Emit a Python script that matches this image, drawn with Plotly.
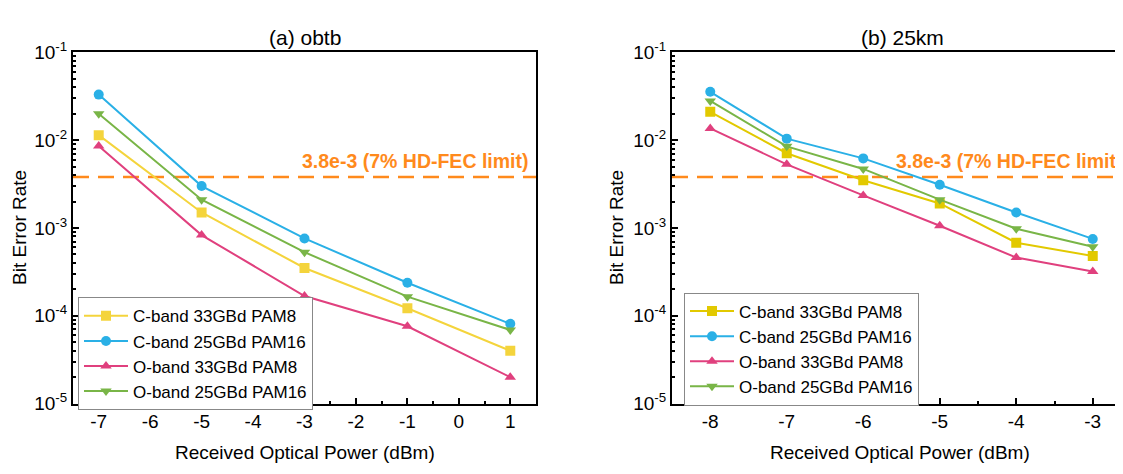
import plotly.graph_objects as go

W, H = 1123, 474

# ---------------- data ----------------
names = ["C-band 33GBd PAM8", "C-band 25GBd PAM16", "O-band 33GBd PAM8", "O-band 25GBd PAM16"]
symbols = ["square", "circle", "triangle-up", "triangle-down"]
colors_a = ["#F4D43C", "#2AB0E6", "#E0407E", "#79B547"]
colors_b = ["#E2C900", "#2AB0E6", "#E0407E", "#79B547"]

x_a = [-7, -5, -3, -1, 1]
ber_a_c33_pam8 = [1.14e-2, 1.5e-3, 3.5e-4, 1.22e-4, 4.0e-5]
ber_a_c25_pam16 = [3.3e-2, 3.0e-3, 7.6e-4, 2.38e-4, 8.1e-5]
ber_a_o33_pam8 = [8.6e-3, 8.3e-4, 1.68e-4, 7.6e-5, 2.0e-5]
ber_a_o25_pam16 = [2.0e-2, 2.1e-3, 5.3e-4, 1.65e-4, 6.9e-5]

x_b = [-8, -7, -6, -5, -4, -3]
ber_b_c33_pam8 = [2.1e-2, 7.1e-3, 3.5e-3, 1.9e-3, 6.8e-4, 4.8e-4]
ber_b_c25_pam16 = [3.55e-2, 1.04e-2, 6.2e-3, 3.1e-3, 1.5e-3, 7.5e-4]
ber_b_o33_pam8 = [1.36e-2, 5.3e-3, 2.35e-3, 1.06e-3, 4.6e-4, 3.2e-4]
ber_b_o25_pam16 = [2.8e-2, 8.5e-3, 4.7e-3, 2.1e-3, 9.8e-4, 6.1e-4]

fec_limit = 3.8e-3
fec_text = "3.8e-3 (7% HD-FEC limit)"
titles = ["(a) obtb", "(b) 25km"]
y_tickvals = [1e-5, 1e-4, 1e-3, 1e-2, 1e-1]
y_ticktext = ["10<sup>-5</sup>", "10<sup>-4</sup>", "10<sup>-3</sup>", "10<sup>-2</sup>", "10<sup>-1</sup>"]
y_minor = [m * 10.0 ** e for e in range(-5, -1) for m in range(2, 10)]
x_a_ticks = [-7, -6, -5, -4, -3, -2, -1, 0, 1]
x_a_ticktext = ["-7", "-6", "-5", "-4", "-3", "-2", "-1", "0", "1"]
x_b_ticks = [-8, -7, -6, -5, -4, -3]
x_b_ticktext = ["-8", "-7", "-6", "-5", "-4", "-3"]

FONT = "Liberation Sans, Arial, sans-serif"

series_a = [ber_a_c33_pam8, ber_a_c25_pam16, ber_a_o33_pam8, ber_a_o25_pam16]
series_b = [ber_b_c33_pam8, ber_b_c25_pam16, ber_b_o33_pam8, ber_b_o25_pam16]

fig = go.Figure()
for i, ys in enumerate(series_a):
    fig.add_trace(go.Scatter(
        x=x_a, y=ys, name=names[i], mode="lines+markers",
        line=dict(color=colors_a[i], width=2),
        marker=dict(symbol=symbols[i], size=10, color=colors_a[i]),
        xaxis="x", yaxis="y", legend="legend"))
for i, ys in enumerate(series_b):
    fig.add_trace(go.Scatter(
        x=x_b, y=ys, name=names[i], mode="lines+markers",
        line=dict(color=colors_b[i], width=2),
        marker=dict(symbol=symbols[i], size=10, color=colors_b[i]),
        xaxis="x2", yaxis="y2", legend="legend2"))

# page offset of the figure inside the browser page (default body margin)
OFF = 8

def px_x(p):
    return (p - OFF) / W

def px_y(p):
    return 1 - (p - OFF) / H

top, bottom = 41, 411
ydom = [px_y(bottom), px_y(top)]
a_left, a_right = 73, 536
b_left = 672

xcommon = dict(showline=True, linecolor="black", linewidth=2, ticks="inside",
               ticklen=6, tickwidth=2, tickcolor="black", showgrid=False, zeroline=False,
               tickfont=dict(family=FONT, size=19, color="black"),
               minor=dict(ticks="inside", ticklen=3, tickwidth=2, tickcolor="black", dtick=0.5, showgrid=False))
ycommon = dict(type="log", range=[-5, -1], showline=True, linecolor="black", linewidth=2,
               ticks="inside", ticklen=6, tickwidth=2, tickcolor="black", showgrid=False, zeroline=False,
               tickmode="array", tickvals=y_tickvals, ticktext=y_ticktext,
               tickfont=dict(family=FONT, size=19, color="black"),
               minor=dict(ticks="inside", ticklen=3, tickwidth=1.5, tickcolor="black",
                          tickmode="array", tickvals=y_minor, showgrid=False))

legend_common = dict(xanchor="left", yanchor="top", bgcolor="white", bordercolor="#888888",
                     borderwidth=1, font=dict(family=FONT, size=17, color="black"),
                     tracegroupgap=0, itemwidth=44)

fig.update_layout(
    width=W, height=H, margin=dict(l=0, r=0, t=0, b=0),
    paper_bgcolor="white", plot_bgcolor="white",
    font=dict(family=FONT, size=18, color="black"),
    xaxis=dict(domain=[px_x(a_left), px_x(a_right)], range=[-7.5, 1.5], anchor="y",
               mirror=True, tickmode="array", tickvals=x_a_ticks, ticktext=x_a_ticktext, **xcommon),
    yaxis=dict(domain=ydom, anchor="x", mirror=True, **ycommon),
    xaxis2=dict(domain=[px_x(b_left), 1], range=[-8.5, -2.5], anchor="y2",
                mirror=True, tickmode="array", tickvals=x_b_ticks, ticktext=x_b_ticktext, **xcommon),
    yaxis2=dict(domain=ydom, anchor="x2", mirror=False, **ycommon),
    legend=dict(x=px_x(78), y=px_y(299), **legend_common),
    legend2=dict(x=px_x(684), y=px_y(294), **legend_common),
    showlegend=True,
)

# FEC limit lines
for xr, yr in [("x domain", "y"), ("x2 domain", "y2")]:
    fig.add_shape(type="line", xref=xr, yref=yr, x0=0, x1=1, y0=fec_limit, y1=fec_limit,
                  line=dict(color="#FF8A1C", width=2.5, dash="16px,9px"), layer="below")

anns = []
anns.append(dict(text="<b>" + fec_text + "</b>", x=px_x(530), y=px_y(155), xref="paper", yref="paper",
                 xanchor="right", yanchor="middle", showarrow=False,
                 font=dict(family=FONT, size=19.5, color="#FF8A1C")))
anns.append(dict(text="<b>" + fec_text + "</b>", x=px_x(1124), y=px_y(155), xref="paper", yref="paper",
                 xanchor="right", yanchor="middle", showarrow=False,
                 font=dict(family=FONT, size=19.5, color="#FF8A1C")))
for t, cx in zip(titles, [304.5, 902]):
    anns.append(dict(text=t, x=px_x(cx), y=px_y(25), xref="paper", yref="paper",
                     xanchor="center", yanchor="middle", showarrow=False,
                     font=dict(family=FONT, size=21, color="black")))
for cx in [20, 617]:
    anns.append(dict(text="Bit Error Rate", x=px_x(cx), y=px_y(226), xref="paper", yref="paper",
                     xanchor="center", yanchor="middle", showarrow=False, textangle=-90,
                     font=dict(family=FONT, size=19, color="black")))
for cx in [304.5, 900]:
    anns.append(dict(text="Received Optical Power (dBm)", x=px_x(cx), y=px_y(462), xref="paper", yref="paper",
                     xanchor="center", yanchor="middle", showarrow=False,
                     font=dict(family=FONT, size=19, color="black")))
fig.update_layout(annotations=anns)

fig.write_html("out.html")
